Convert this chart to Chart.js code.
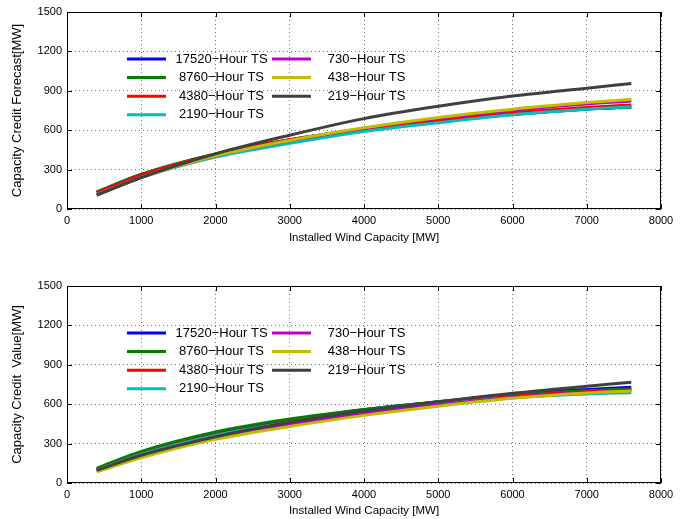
<!DOCTYPE html>
<html>
<head>
<meta charset="utf-8">
<script src="https://cdn.jsdelivr.net/npm/chart.js@4"></script>
<style>
  body { margin: 0; background: #fff; }
  canvas { display: block; }
</style>
</head>
<body>
<canvas id="forecastChart" width="686" height="250"></canvas>
<canvas id="valueChart" width="686" height="269"></canvas>
<script>
// Installed wind capacity [MW] at the sampled points
const capacity = [400, 1000, 2000, 3000, 4000, 5000, 6000, 7000, 7600];

// Legend labels and line colours (MATLAB default order)
const seriesLabels = ['17520\u2212Hour TS', ' 8760\u2212Hour TS', ' 4380\u2212Hour TS', ' 2190\u2212Hour TS',
                      '  730\u2212Hour TS', '  438\u2212Hour TS', '  219\u2212Hour TS'];
const seriesColors = ['#0000ff', '#008000', '#ff0000', '#00bfbf', '#bf00bf', '#bfbf00', '#404040'];

// Capacity credit forecast [MW]
const forecast17520 = [128, 262, 418, 525, 605, 668, 720, 760, 775];
const forecast8760  = [130, 265, 420, 527, 607, 670, 722, 762, 777];
const forecast4380  = [125, 258, 415, 527, 610, 678, 733, 773, 792];
const forecast2190  = [110, 240, 395, 500, 590, 657, 718, 760, 778];
const forecast730   = [108, 242, 405, 520, 615, 690, 752, 800, 822];
const forecast438   = [105, 240, 405, 522, 618, 697, 760, 810, 835];
const forecast219   = [105, 240, 420, 562, 688, 782, 860, 920, 955];

// Capacity credit value [MW]
const value17520 = [105, 230, 380, 480, 558, 618, 675, 712, 729];
const value8760  = [112, 240, 388, 487, 560, 618, 670, 703, 716];
const value4380  = [100, 220, 365, 465, 545, 605, 660, 695, 708];
const value2190  = [98, 218, 362, 462, 540, 600, 650, 678, 688];
const value730   = [90, 200, 345, 445, 528, 595, 650, 688, 702];
const value438   = [85, 192, 332, 430, 515, 585, 645, 685, 701];
const value219   = [96, 211, 352, 462, 548, 618, 683, 737, 767];

const axisFont = "'Liberation Sans', Arial, sans-serif";

// Box around the axes, inward tick marks and the two-column legend
const matlabAxes = {
    id: 'matlabAxes',
    afterDraw(chart) {
        const { ctx, chartArea: a, scales } = chart;
        ctx.save();
        ctx.strokeStyle = '#000';
        ctx.lineWidth = 1;
        ctx.strokeRect(a.left + 0.5, a.top + 0.5, a.right - a.left - 1, a.bottom - a.top - 1);
        ctx.beginPath();
        scales.x.ticks.forEach(t => {
            const px = Math.round(scales.x.getPixelForValue(t.value)) + 0.5;
            ctx.moveTo(px, a.bottom); ctx.lineTo(px, a.bottom - 5);
            ctx.moveTo(px, a.top); ctx.lineTo(px, a.top + 5);
        });
        scales.y.ticks.forEach(t => {
            const py = Math.round(scales.y.getPixelForValue(t.value)) + 0.5;
            ctx.moveTo(a.left, py); ctx.lineTo(a.left + 5, py);
            ctx.moveTo(a.right, py); ctx.lineTo(a.right - 5, py);
        });
        ctx.stroke();

        // legend, column by column, no box
        ctx.font = '13px ' + axisFont;
        ctx.textBaseline = 'middle';
        ctx.fillStyle = '#000';
        chart.data.datasets.forEach((ds, i) => {
            const col = Math.floor(i / 4);
            const row = i % 4;
            const x0 = a.left + 60 + col * 145;
            const y0 = a.top + 47 + row * 18.6;
            ctx.strokeStyle = ds.borderColor;
            ctx.lineWidth = 3;
            ctx.beginPath();
            ctx.moveTo(x0, y0); ctx.lineTo(x0 + 39, y0);
            ctx.stroke();
            ctx.fillText(ds.label, x0 + 48.5, y0);
        });
        ctx.restore();
    }
};

function makeChart(canvasId, seriesList, yTitle, padTop, titlePad) {
    new Chart(document.getElementById(canvasId), {
        type: 'line',
        data: {
            datasets: seriesList.map((vals, i) => ({
                label: seriesLabels[i],
                data: capacity.map((c, j) => ({ x: c, y: vals[j] })),
                borderColor: seriesColors[i],
                borderWidth: 3,
                pointRadius: 0,
                cubicInterpolationMode: 'monotone',
                fill: false,
                order: seriesList.length - i
            }))
        },
        options: {
            responsive: false,
            animation: false,
            devicePixelRatio: 1,
            layout: { padding: { top: padTop, right: 25, bottom: 0, left: 0 } },
            plugins: { legend: { display: false }, tooltip: { enabled: false } },
            scales: {
                x: {
                    type: 'linear',
                    min: 0,
                    max: 8000,
                    afterFit: scale => { scale.height = scale.chart.height - padTop - 197; },
                    ticks: { stepSize: 1000, color: '#000', padding: 5, maxRotation: 0,
                             callback: v => String(v), font: { family: axisFont, size: 11 } },
                    grid: { color: '#777', drawTicks: false, lineWidth: 1 },
                    border: { display: false, dash: [1, 3] },
                    title: { display: true, text: 'Installed Wind Capacity [MW]', color: '#000',
                             padding: { top: 0, bottom: titlePad }, font: { family: axisFont, size: 11.5 } }
                },
                y: {
                    min: 0,
                    max: 1500,
                    afterFit: scale => { scale.width = 67; },
                    ticks: { stepSize: 300, color: '#000', padding: 5,
                             callback: v => String(v), font: { family: axisFont, size: 11 } },
                    grid: { color: '#777', drawTicks: false, lineWidth: 1 },
                    border: { display: false, dash: [1, 3] },
                    title: { display: true, text: yTitle, color: '#000',
                             padding: { top: 10, bottom: 0 }, font: { family: axisFont, size: 13 } }
                }
            }
        },
        plugins: [matlabAxes]
    });
}

document.addEventListener('DOMContentLoaded', function () {
    makeChart('forecastChart',
        [forecast17520, forecast8760, forecast4380, forecast2190, forecast730, forecast438, forecast219],
        'Capacity Credit Forecast[MW]', 12, 5);
    makeChart('valueChart',
        [value17520, value8760, value4380, value2190, value730, value438, value219],
        'Capacity Credit  Value[MW]', 36, 1);
});
</script>
</body>
</html>
